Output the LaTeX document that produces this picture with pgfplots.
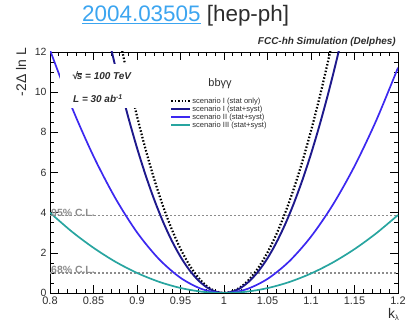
\documentclass[border=0pt]{standalone}
\usepackage{pgfplots}
\pgfplotsset{compat=1.18}
\usepackage{fontspec}
\setmainfont{Liberation Sans}
\definecolor{cNavy}{RGB}{30,25,140}
\definecolor{cBlue}{RGB}{60,40,240}
\definecolor{cTeal}{RGB}{40,165,160}
\definecolor{cLink}{RGB}{60,165,240}
\definecolor{cTxt}{RGB}{45,45,45}
\definecolor{cCL}{RGB}{140,140,140}
\newcommand{\rts}{\mbox{√\kern-0.08em\vbox{\hrule height 0.7pt\kern0.6pt\hbox{s}}}}
\begin{document}
\begin{tikzpicture}
\begin{axis}[
  scale only axis, width=348bp, height=241bp,
  xmin=0.8, xmax=1.2, ymin=0, ymax=12,
  xtick={0.8,0.85,0.9,0.95,1,1.05,1.1,1.15,1.2},
  xticklabels={0.8,0.85,0.9,0.95,1,1.05,1.1,1.15,1.2},
  ytick={0,2,4,6,8,10,12},
  yticklabels={0,2,4,6,8,10,12},
  minor x tick num=4, minor y tick num=3,
  major tick length=8bp, minor tick length=4bp,
  tick align=inside,
  axis line style={line width=0.8bp},
  tick style={black, line width=0.6bp},
  x tick label style={font=\fontsize{11}{13}\selectfont, text=cTxt},
  y tick label style={font=\fontsize{10.5}{12}\selectfont, text=cTxt},
  /pgf/number format/assume math mode=true,
  legend cell align=left,
  legend style={at={(0.345,0.814)}, anchor=north west, draw=none, fill=none,
    font=\fontsize{7.6}{8.5}\selectfont, text=cTxt, inner sep=0pt, row sep=-0.6bp,
    nodes={inner sep=0.8bp}},
  legend image code/.code={\draw[#1] (0bp,0bp) -- (19bp,0bp);},
]
\addplot[cCL, line width=1.2bp, dash pattern=on 2bp off 2bp, forget plot] coordinates {(0.8,3.84) (1.2,3.84)};
\addplot[cCL, line width=1.2bp, dash pattern=on 2bp off 2bp, forget plot] coordinates {(0.8,1) (1.2,1)};
% scenario I (stat only)
\addplot[black, line width=2.2bp, dash pattern=on 1.5bp off 1.9bp, smooth] coordinates {
(0.87,14.88) (0.88,12.68) (0.89,10.65) (0.90,8.805) (0.91,7.132) (0.92,5.635) (0.93,4.315)
(0.94,3.170) (0.95,2.201) (0.96,1.409) (0.97,0.792) (0.98,0.352) (0.99,0.088) (1.0,0)
(1.01,0.0807) (1.02,0.3228) (1.03,0.7264) (1.04,1.291) (1.05,2.018) (1.06,2.905) (1.07,3.955)
(1.08,5.165) (1.09,6.537) (1.10,8.071) (1.11,9.766) (1.12,11.62) (1.13,13.64) (1.14,15.82)};
\addlegendentry{scenario I (stat only)}
% scenario I (stat+syst)
\addplot[cNavy, line width=1.9bp, smooth] coordinates {
(0.86,14.16) (0.87,12.21) (0.88,10.41) (0.89,8.744) (0.90,7.226) (0.91,5.853) (0.92,4.625)
(0.93,3.541) (0.94,2.601) (0.95,1.807) (0.96,1.156) (0.97,0.650) (0.98,0.289) (0.99,0.0723) (1.0,0)
(1.01,0.0693) (1.02,0.277) (1.03,0.623) (1.04,1.108) (1.05,1.731) (1.06,2.493) (1.07,3.393)
(1.08,4.432) (1.09,5.609) (1.10,6.925) (1.11,8.380) (1.12,9.972) (1.13,11.70) (1.14,13.57) (1.15,15.58)};
\addlegendentry{scenario I (stat+syst)}
% scenario II (stat+syst)
\addplot[cBlue, line width=1.7bp, smooth] coordinates {
(0.8,12.10) (0.825,9.26) (0.85,6.81) (0.875,4.73) (0.9,3.02) (0.925,1.70) (0.95,0.756) (0.975,0.189) (1.0,0)
(1.025,0.175) (1.05,0.701) (1.075,1.578) (1.1,2.806) (1.125,4.384) (1.15,6.313) (1.175,8.593) (1.2,11.22)};
\addlegendentry{scenario II (stat+syst)}
% scenario III (stat+syst)
\addplot[cTeal, line width=1.7bp, smooth] coordinates {
(0.8,4.0) (0.825,3.06) (0.85,2.25) (0.875,1.56) (0.9,1.0) (0.925,0.5625) (0.95,0.25) (0.975,0.0625) (1.0,0)
(1.025,0.0607) (1.05,0.2427) (1.075,0.546) (1.1,0.971) (1.125,1.517) (1.15,2.184) (1.175,2.973) (1.2,3.883)};
\addlegendentry{scenario III (stat+syst)}
\end{axis}
% white box behind energy / lumi text
\fill[white] (10bp,185bp) rectangle (90bp,229bp);
\node[anchor=base west, inner sep=0, font=\fontsize{10}{12}\selectfont\bfseries\itshape, text=cTxt] at (22bp,213bp) {\rts{} = 100 TeV};
\node[anchor=base west, inner sep=0, font=\fontsize{10}{12}\selectfont\bfseries\itshape, text=cTxt] at (23bp,190bp) {L = 30 ab\textsuperscript{-1}};
\node[anchor=base, inner sep=0, font=\fontsize{11}{13}\selectfont, text=cTxt] at (170bp,206bp) {bbγγ};
\node[anchor=base west, inner sep=0, font=\fontsize{10.5}{12}\selectfont\bfseries, text=cCL] at (1bp,76bp) {95\% C.L.};
\node[anchor=base west, inner sep=0, font=\fontsize{10.5}{12}\selectfont\bfseries, text=cCL] at (1bp,20bp) {68\% C.L.};
\node[anchor=base east, inner sep=0, font=\fontsize{10}{12}\selectfont\bfseries\itshape, text=cTxt] at (346bp,248bp) {FCC-hh Simulation (Delphes)};
\node[anchor=base west, inner sep=0, font=\fontsize{22.5}{26}\selectfont] at (32bp,271bp) {\textcolor{cLink}{\underline{2004.03505}} \textcolor{cTxt}{[hep-ph]}};
\node[rotate=90, anchor=base east, inner sep=0, font=\fontsize{14}{16}\selectfont, text=cTxt] at (-24bp,245bp) {-2Δ ln L};
\node[anchor=base west, inner sep=0, font=\fontsize{14}{16}\selectfont, text=cTxt] at (338bp,-25bp) {k\raisebox{-0.35ex}{\fontsize{7.5}{8}\selectfont λ}};
\pgfresetboundingbox
\path[use as bounding box] (-50bp,-29bp) rectangle (358bp,293bp);
\end{tikzpicture}
\end{document}
